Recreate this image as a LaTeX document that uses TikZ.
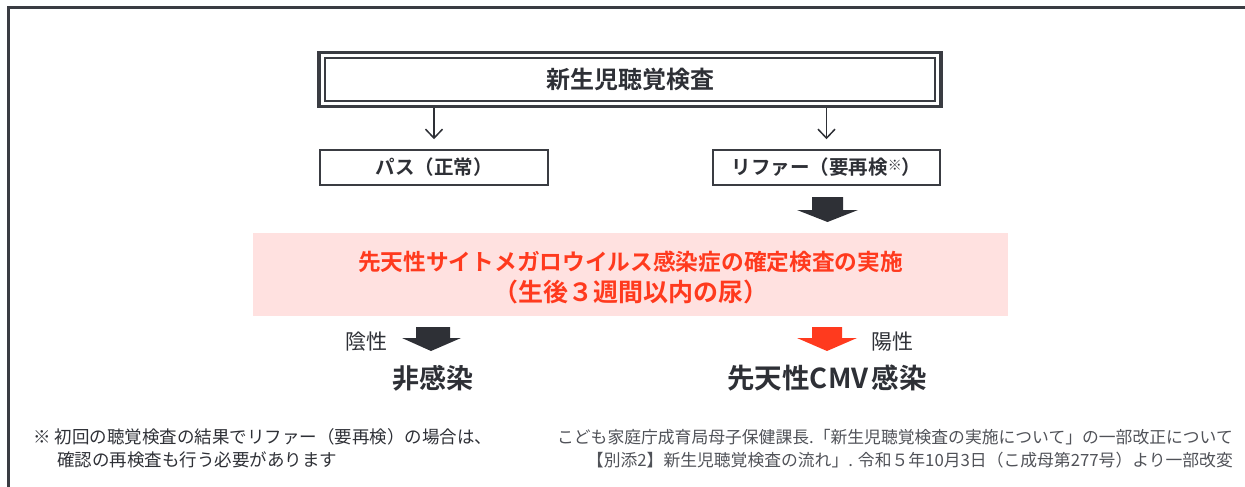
\documentclass[tikz,border=0pt]{standalone}
\usepackage{fontspec}
\setmainfont{Noto Sans CJK JP}[BoldFont={Noto Sans CJK JP Bold}]
\usetikzlibrary{arrows.meta}
\definecolor{ink}{HTML}{2E3036}
\definecolor{boxln}{HTML}{3A3C42}
\definecolor{pinkbg}{HTML}{FFE1E0}
\definecolor{redtx}{HTML}{FF3A1E}
\definecolor{graytx}{HTML}{505258}
\tikzset{
  fs/.style={font=\fontsize{#1}{#1}\selectfont},
  resbox/.style={draw=boxln, line width=1.5pt, minimum width=227pt, minimum height=35pt, inner sep=0pt, text=ink, font=\bfseries\fontsize{19.5}{19.5}\selectfont},
  openarr/.style={draw=ink, line width=1.5pt, -{Straight Barb[length=9pt,width=17pt,line width=1.5pt]}},
}
\begin{document}
\begin{tikzpicture}[x=1pt,y=-1pt]
\useasboundingbox (0,0) rectangle (1245,487);
\clip (0,0) rectangle (1245,487);
% outer frame
\draw[boxln, line width=3pt] (8,8) rectangle (1275,520);
% top double box
\node[draw=boxln, line width=3.5pt, minimum width=622pt, minimum height=54pt, inner sep=0pt] (topouter) at (630,79.5) {};
\node[draw=boxln, line width=2pt, minimum width=610pt, minimum height=42.5pt, inner sep=0pt, text=ink, font=\bfseries\fontsize{24}{24}\selectfont] (top) at (630,79.5) {新生児聴覚検査};
% result boxes
\node[resbox, minimum width=228pt] (pass) at (434,167.5) {パス（正常）};
\node[resbox] (refer) at (826.5,167.5) {リファー（要再検\raisebox{4pt}{\fontsize{14}{14}\selectfont ※}）};
\draw[openarr, shorten >=10pt] (topouter.south -| pass.north) -- (pass.north);
\draw[openarr, shorten >=10pt] (topouter.south -| refer.north) -- (refer.north);
% pink box
\node[fill=pinkbg, minimum width=755pt, minimum height=83pt, inner sep=0pt] (cmv) at (630.5,274.5) {};
\node[text=redtx, font=\bfseries\fontsize{22.7}{22.7}\selectfont, inner sep=0pt] (cmv1) at (630.5,262) {先天性サイトメガロウイルス感染症の確定検査の実施};
\node[text=redtx, font=\bfseries\fontsize{25}{25}\selectfont, inner sep=0pt] (cmv2) at (630.5,292) {（生後３週間以内の尿）};
% block arrows
\fill[ink] (812,197) -- (843,197) -- (843,210) -- (858,210) -- (827.5,222) -- (797,210) -- (812,210) -- cycle;
\fill[ink] (416,327) -- (450,327) -- (450,338) -- (461,338) -- (431,351) -- (402,338) -- (416,338) -- cycle;
\fill[redtx] (812,327) -- (842,327) -- (842,338) -- (857,338) -- (827,351) -- (797,338) -- (812,338) -- cycle;
% labels
\node[text=ink, fs=21, inner sep=0pt] (neg) at (366,342) {陰性};
\node[text=ink, fs=21, inner sep=0pt] (pos) at (892,342) {陽性};
\node[text=ink, font=\bfseries\fontsize{27}{27}\selectfont, inner sep=0pt] (noninf) at (433,378) {非感染};
\node[text=ink, font=\bfseries\fontsize{27.5}{27.5}\selectfont, inner sep=0pt] (inf) at (827,378) {先天性CMV\hspace{3pt}感染};
% footnotes
\node[text=ink, fs=17.5, anchor=west, inner sep=0pt] (fn1) at (33,437) {※ 初回の聴覚検査の結果でリファー（要再検）の場合は、};
\node[text=ink, fs=17.5, anchor=west, inner sep=0pt] (fn2) at (57,460) {確認の再検査も行う必要があります};
\node[text=graytx, fs=16.8, anchor=east, inner sep=0pt] (src1) at (1233,437) {こども家庭庁成育局母子保健課長.「新生児聴覚検査の実施について」の一部改正について};
\node[text=graytx, fs=16.8, anchor=east, inner sep=0pt] (src2) at (1233,460) {【別添2】新生児聴覚検査の流れ」. 令和５年10月3日（こ成母第277号）より一部改変};
\end{tikzpicture}
\end{document}
